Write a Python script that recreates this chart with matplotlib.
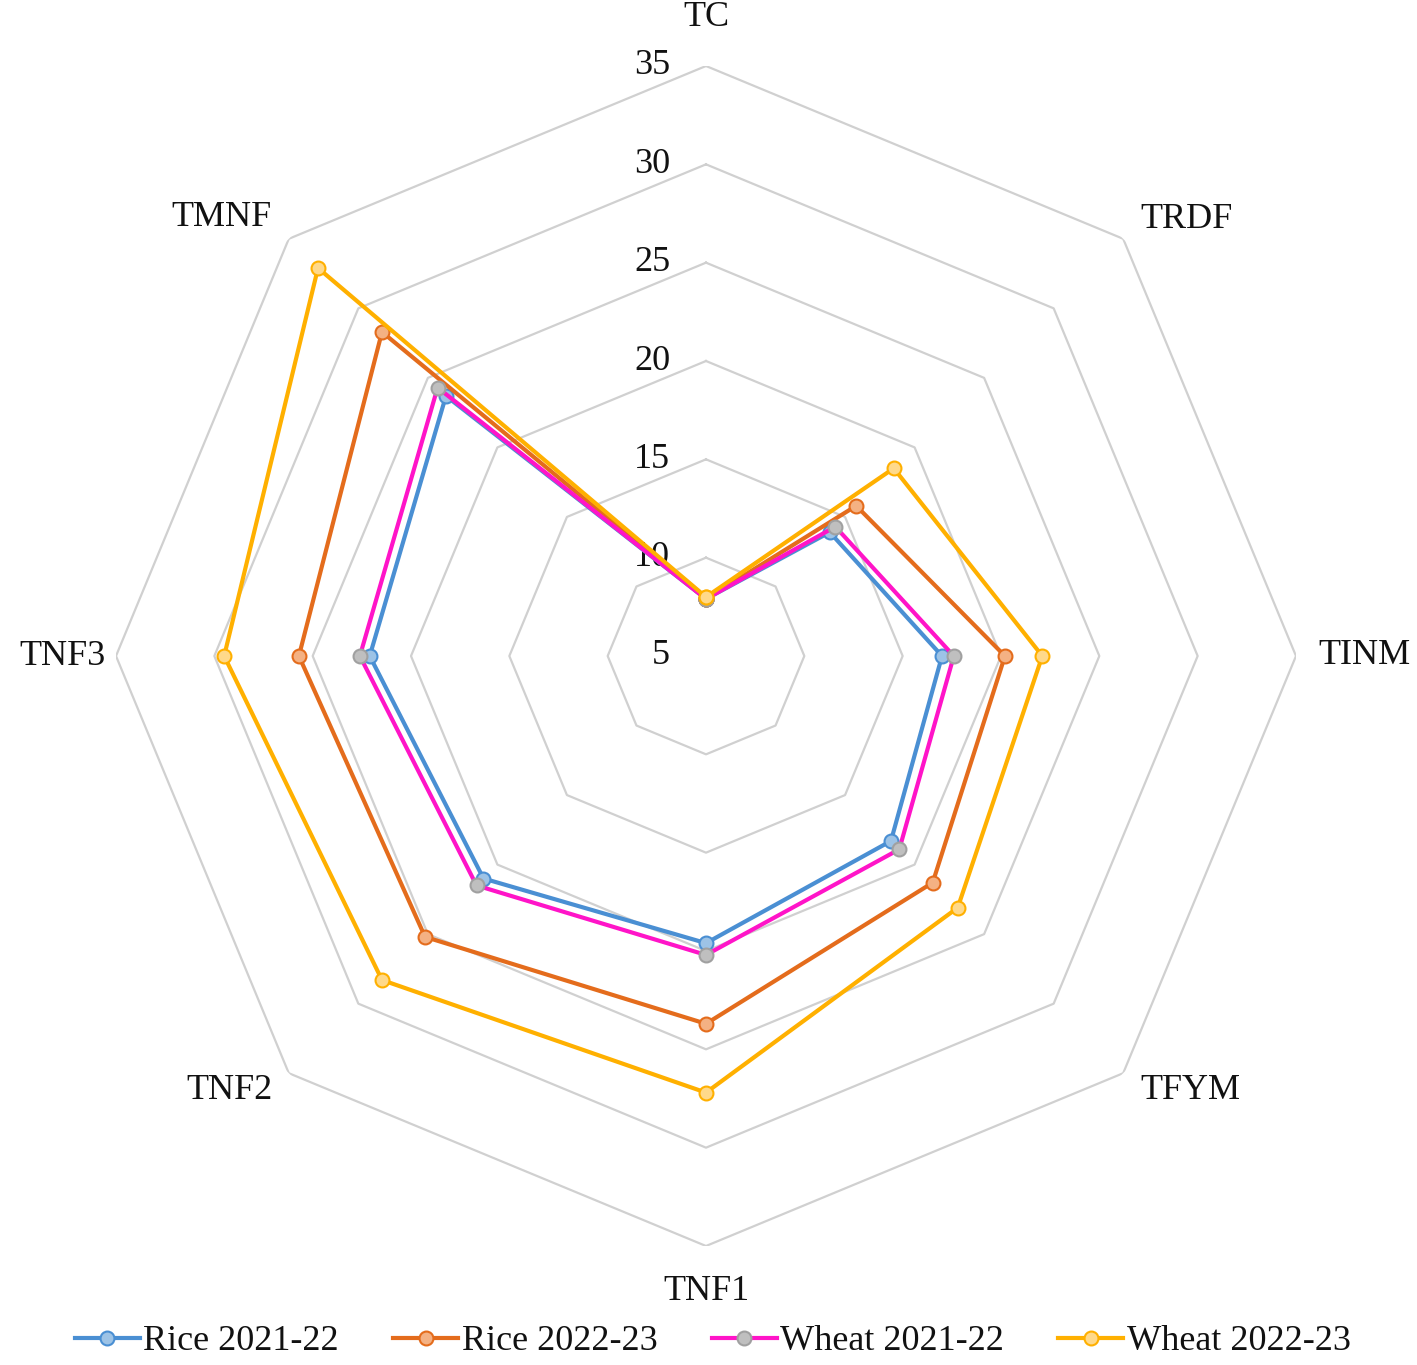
import numpy as np
import matplotlib
matplotlib.use("Agg")
import matplotlib.pyplot as plt

plt.rcParams['font.family'] = ['Liberation Serif', 'DejaVu Serif']

categories = ['TC', 'TRDF', 'TINM', 'TFYM', 'TNF1', 'TNF2', 'TNF3', 'TMNF']
rice_2122 = [7.9, 13.9, 17.0, 18.3, 19.6, 21.0, 22.1, 23.7]
rice_2223 = [7.9, 15.8, 20.2, 21.3, 23.7, 25.2, 25.7, 28.3]
wheat_2122 = [7.9, 14.3, 17.6, 18.9, 20.2, 21.5, 22.6, 24.3]
wheat_2223 = [8.0, 18.5, 22.1, 23.1, 27.2, 28.3, 29.5, 32.9]
rings = [10, 15, 20, 25, 30, 35]
r_labels = [5, 10, 15, 20, 25, 30, 35]

series = [
    ('Rice 2021-22', rice_2122, '#4a8fd3', '#9dc3e6', '#4a8fd3'),
    ('Rice 2022-23', rice_2223, '#e46c1c', '#f4b183', '#e46c1c'),
    ('Wheat 2021-22', wheat_2122, '#ff14c8', '#bfbfbf', '#a0a0a0'),
    ('Wheat 2022-23', wheat_2223, '#ffb000', '#ffd98a', '#ffb000'),
]

W, H = 1417, 1365
fig = plt.figure(figsize=(W / 100, H / 100), dpi=100)
cx, cy, R = 706, 656, 590
ax = fig.add_axes([(cx - R) / W, (H - cy - R) / H, 2 * R / W, 2 * R / H], projection='polar')
ax.set_theta_zero_location('N')
ax.set_theta_direction(-1)
ax.set_ylim(5, 35)
ax.grid(False)
ax.spines['polar'].set_visible(False)
ax.set_xticks([])
ax.set_yticks([])
ax.patch.set_alpha(0)

n = len(categories)
theta = np.arange(n) * 2 * np.pi / n
theta_c = np.append(theta, theta[0])

# octagon grid
for v in rings:
    ax.plot(theta_c, [v] * (n + 1), color='#d0d0d0', lw=1.6, zorder=1)

fs = 26
# radial labels left of the vertical axis
for v in r_labels:
    ax.annotate(str(v), xy=(0, v), xytext=(-36, 0), textcoords='offset pixels',
                ha='right', va='center', fontsize=fs, color='#111111')

# category labels
label_offsets = [(0, 48), (63, 19), (68, 0), (67, -17), (0, -46), (-59, -17), (-54, 0), (-67, 21)]
for t, lab, off in zip(theta, categories, label_offsets):
    ax.annotate(lab, xy=(t, 35), xytext=off, textcoords='offset pixels',
                ha='center', va='center', fontsize=fs, color='#111111')

for name, vals, lc, mfc, mec in series:
    v = np.append(vals, vals[0])
    ax.plot(theta_c, v, color=lc, lw=3.0, marker='o', markersize=10,
            markerfacecolor=mfc, markeredgecolor=mec, markeredgewidth=1.5,
            label=name, zorder=3)

fig.legend(loc='center', bbox_to_anchor=(0.503, 0.017), ncol=4, frameon=False,
           fontsize=fs, handlelength=1.8, handletextpad=0.1, columnspacing=1.5,
           labelcolor='#111111')

fig.savefig('out.png', dpi=100, facecolor='white')
